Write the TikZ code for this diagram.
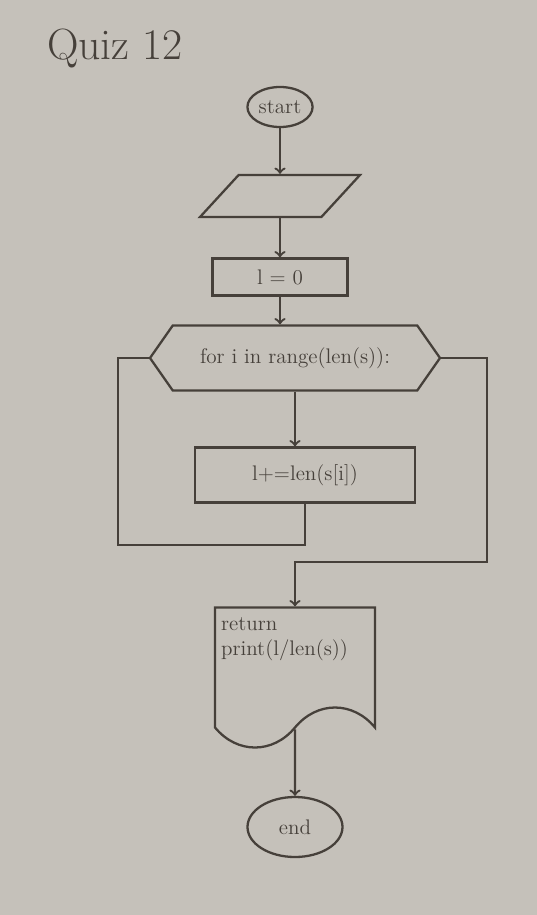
\documentclass[tikz,border=0pt]{standalone}
\usetikzlibrary{shapes.geometric,shapes.symbols}
\definecolor{paper}{RGB}{197,193,186}
\definecolor{ink}{RGB}{70,64,58}

\begin{document}
\begin{tikzpicture}[
        inkline/.style={draw=ink, line width=1.3pt},
        flow/.style={->, draw=ink, line width=1.3pt},
        label/.style={text=ink, font=\large},
        box/.style={inkline, label, rectangle}
    ]
        \fill[paper] (0,0) rectangle (10.74,-18.3);
        \useasboundingbox (0,0) rectangle (10.74,-18.3);

        \node[text=ink, font=\Huge] (title) at (2.3,-0.96) {Quiz 12};

        \node[
            inkline, label,
            ellipse,
            inner sep=1pt,
            minimum width=1.3cm,
            minimum height=0.8cm
        ] (start) at (5.6,-2.14) {start};

        \node[
            inkline,
            trapezium,
            trapezium left angle=65,
            trapezium right angle=115,
            trapezium stretches=true,
            minimum width=3.2cm,
            minimum height=0.84cm
        ] (input) at (5.6,-3.92) {};

        \node[
            box,
            minimum width=2.7cm,
            minimum height=0.74cm
        ] (lzero) at (5.6,-5.54) {l = 0};

        \node[
            inkline, label,
            signal,
            signal to=west and east,
            signal pointer angle=110,
            minimum width=5.8cm,
            minimum height=1.3cm
        ] (loop) at (5.9,-7.16) {for i in range(len(s)):};

        \node[
            box,
            minimum width=4.4cm,
            minimum height=1.1cm
        ] (body) at (6.1,-9.5) {l+=len(s[i])};

        \node[
            inkline,
            tape,
            tape bend top=none,
            tape bend bottom=in and out,
            tape bend height=0.8cm,
            minimum width=3.2cm,
            minimum height=2.8cm
        ] (result) at (5.9,-13.15) {};
        \node[
            label,
            anchor=north west,
            align=left
        ] (resulttext) at ([shift={(0.02,-0.1)}]result.north west) {
            return\\
            print(l/len(s))
        };

        \node[
            inkline, label,
            ellipse,
            minimum width=1.9cm,
            minimum height=1.2cm
        ] (stop) at (5.9,-16.54) {end};

        \coordinate (loopback) at (2.36,-10.9);
        \coordinate (exit) at (9.74,-11.24);

        \foreach \a/\b in {start/input, input/lzero, result/stop} {
            \draw[flow] (\a) -- (\b);
        }
        \draw[flow] (lzero.south) -- (lzero.south |- loop.north);
        \draw[flow] (loop.south) -- (loop.south |- body.north);
        \draw[inkline] (body.south) |- (loopback) |- (loop.west);
        \draw[flow] (loop.east) -| (exit) -| (result.north);
    \end{tikzpicture}
\end{document}
